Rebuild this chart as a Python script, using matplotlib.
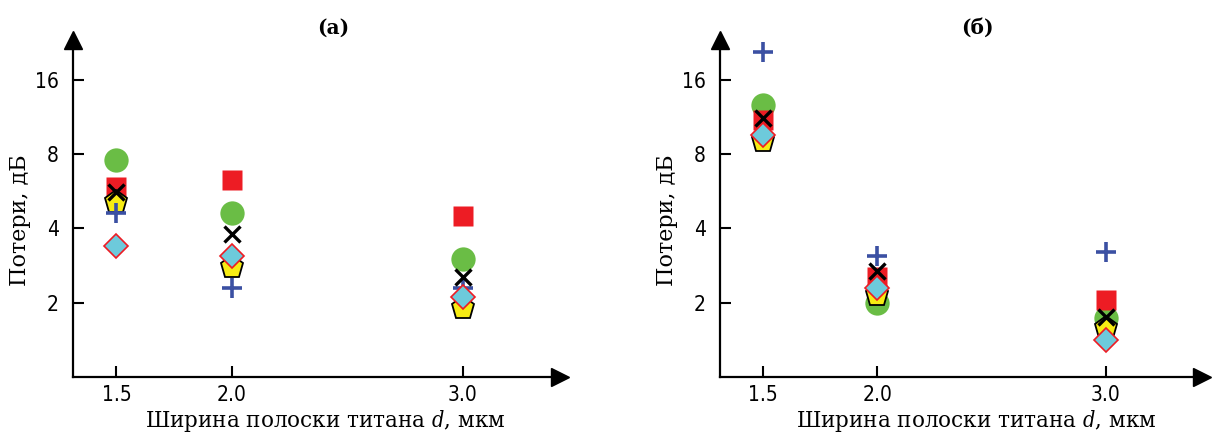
import matplotlib.pyplot as plt
from matplotlib.ticker import FixedLocator, NullLocator

plt.rcParams["font.family"] = ["DejaVu Sans"]
plt.rcParams["font.stretch"] = "condensed"
plt.rcParams["mathtext.fontset"] = "dejavuserif"

# ------------------------------------------------------------
# Data (losses, dB, log2 axis)
# ------------------------------------------------------------
widths = [1.5, 2.0, 3.0]
width_labels = ["1.5", "2.0", "3.0"]
yticks = [2, 4, 8, 16]
ytick_labels = ["2", "4", "8", "16"]

# panel (a)
a_circle   = [7.6, 4.6, 3.0]
a_square   = [5.9, 6.3, 4.5]
a_pentagon = [5.1, 2.8, 1.9]
a_plus     = [4.6, 2.3, 2.3]
a_cross    = [5.6, 3.8, 2.55]
a_diamond  = [3.4, 3.1, 2.1]

# panel (б)
b_circle   = [12.6, 2.0, 1.73]
b_square   = [11.0, 2.55, 2.05]
b_pentagon = [9.0, 2.15, 1.58]
b_plus     = [20.7, 3.1, 3.2]
b_cross    = [11.2, 2.7, 1.75]
b_diamond  = [9.6, 2.3, 1.41]

C_GREEN = "#6abd45"
C_RED = "#ed1c24"
C_YELLOW = "#f7ec13"
C_BLUE = "#3b50a3"
C_CYAN = "#6dcadb"

SERIF = dict(family="DejaVu Serif", fontstretch="normal")


def panel(ax, circle, square, pentagon, plus, cross, diamond, title, xlab_x):
    ax.plot(widths, circle, "o", ms=17.5, color=C_GREEN, mec="none", zorder=2)
    ax.plot(widths, square, "s", ms=15, color=C_RED, mec="none", zorder=3)
    ax.plot(widths, pentagon, "p", ms=17, color=C_YELLOW, mec="black", mew=1.3, zorder=4)
    ax.plot(widths, plus, "+", ms=15, color=C_BLUE, mew=2.6, zorder=5)
    ax.plot(widths, cross, "x", ms=12, color="black", mew=2.4, zorder=6)
    ax.plot(widths, diamond, "D", ms=12, color=C_CYAN, mec=C_RED, mew=1.2, zorder=7)

    ax.set_yscale("log", base=2)
    ax.set_ylim(1, 23.2)
    ax.set_xlim(1.312, 3.42)
    ax.yaxis.set_major_locator(FixedLocator(yticks))
    ax.yaxis.set_minor_locator(NullLocator())
    ax.set_yticklabels(ytick_labels)
    ax.set_xticks(widths)
    ax.set_xticklabels(width_labels)
    ax.tick_params(direction="in", length=8, width=1.5, labelsize=15, pad=6)
    ax.tick_params(axis="y", pad=10)

    for s in ("top", "right"):
        ax.spines[s].set_visible(False)
    for s in ("left", "bottom"):
        ax.spines[s].set_linewidth(1.6)
    ax.plot(1, 0, ">k", ms=13, transform=ax.transAxes, clip_on=False)
    ax.plot(0, 1, "^k", ms=13, transform=ax.transAxes, clip_on=False)

    ax.set_ylabel("Потери, дБ", fontsize=16, labelpad=3, y=0.466, **SERIF)
    ax.set_xlabel(r"Ширина полоски титана $d$, мкм", fontsize=15.5, labelpad=2,
                  x=xlab_x, **SERIF)
    ax.text(0.535, 1.035, title, transform=ax.transAxes, ha="center", va="center",
            fontsize=14.5, weight="bold", **SERIF)


fig = plt.figure(figsize=(12.15, 4.36), dpi=100)
ax1 = fig.add_axes([73 / 1215, 1 - 377 / 436, 487 / 1215, 337 / 436])
ax2 = fig.add_axes([720 / 1215, 1 - 377 / 436, 482 / 1215, 337 / 436])

panel(ax1, a_circle, a_square, a_pentagon, a_plus, a_cross, a_diamond, "(a)", 0.517)
panel(ax2, b_circle, b_square, b_pentagon, b_plus, b_cross, b_diamond, "(б)", 0.531)

fig.savefig("out.png", dpi=100)
